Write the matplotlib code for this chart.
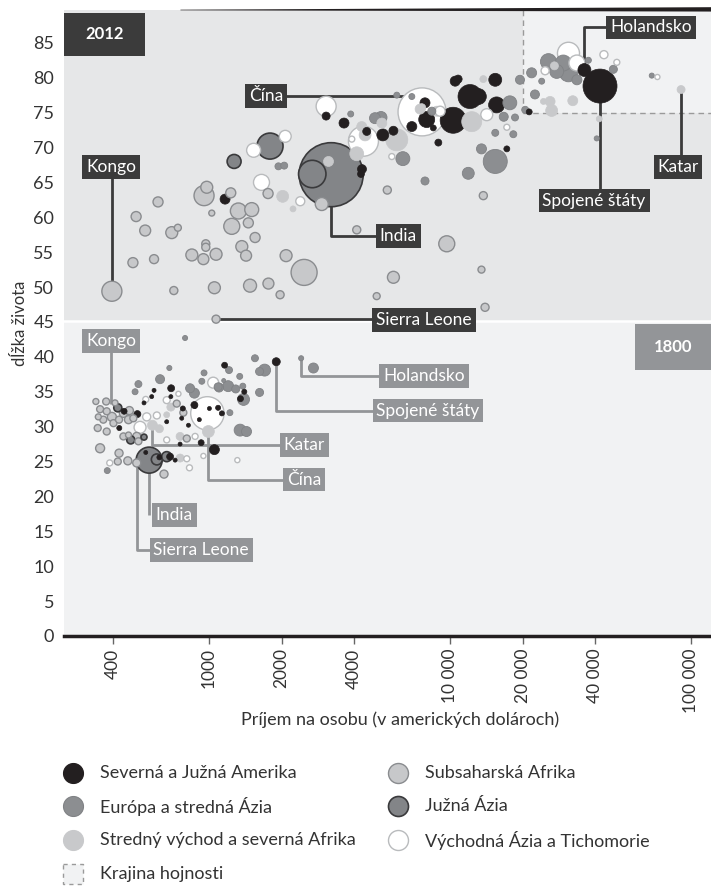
import numpy as np
import matplotlib
matplotlib.use('Agg')
import matplotlib.pyplot as plt
from matplotlib.patches import Rectangle, Polygon

plt.rcParams['font.family'] = ['Lato', 'DejaVu Sans']

# (príjem na osobu v USD, dĺžka života, populácia v mil.)
# ---- rok 2012 ----
amerika_2012 = [
    (41900, 78.8, 357), (36100, 81.1, 52), (1165, 62.6, 31), (3060, 74.5, 20),
    (3630, 73.5, 31), (4310, 66.9, 25), (4270, 66.2, 15), (5260, 71.8, 44),
    (5820, 72.4, 25), (4510, 72.3, 20), (6940, 73.0, 31), (8000, 74.0, 79),
    (7870, 76.4, 31), (8940, 70.7, 15), (8520, 72.8, 11), (10300, 73.9, 209),
    (12100, 77.3, 178), (13100, 77.3, 79), (15600, 76.1, 79), (15400, 79.7, 52),
    (10500, 79.5, 31), (10800, 79.8, 20), (17200, 69.8, 11), (21300, 75.1, 11),
]
europa_2012 = [
    (1940, 67.3, 15), (2050, 67.4, 15), (3870, 74.8, 11), (5170, 74.3, 44),
    (4880, 74.2, 37), (6370, 68.4, 60), (7870, 65.2, 20), (11900, 66.3, 44),
    (13500, 69.8, 31), (15400, 68.0, 178), (15400, 72.1, 15), (18300, 71.9, 15),
    (17700, 76.4, 60), (16700, 74.4, 25), (18600, 74.3, 15), (6940, 77.3, 11),
    (8400, 75.2, 20), (6010, 77.5, 11), (19500, 79.7, 25), (21800, 80.7, 31),
    (22500, 77.6, 25), (24000, 79.5, 11), (20500, 75.4, 15), (25600, 82.3, 79),
    (29500, 82.1, 79), (31000, 80.7, 100), (27700, 80.9, 60), (33600, 79.7, 31),
    (47600, 81.2, 20), (37500, 82.5, 11), (68700, 80.3, 8), (40600, 71.3, 8),
]
blizky_vychod_2012 = [
    (2020, 63.0, 44), (2230, 61.2, 11), (4100, 69.1, 60), (4440, 71.8, 44),
    (6010, 71.1, 150), (5210, 73.5, 31), (4300, 73.0, 31), (12300, 73.7, 124),
    (13740, 79.8, 15), (7510, 75.5, 31), (8810, 75.2, 31), (7630, 75.7, 20),
    (32300, 76.7, 31), (26000, 76.6, 31), (26400, 75.3, 44), (24400, 76.6, 11),
    (90900, 78.3, 20), (27100, 81.7, 20), (41600, 74.1, 11), (3130, 68.0, 31),
]
subsahara_2012 = [
    (395, 49.4, 124), (498, 60.1, 31), (543, 58.1, 37), (614, 62.2, 31),
    (700, 57.8, 44), (742, 58.5, 15), (483, 53.5, 31), (591, 54.0, 25),
    (714, 49.5, 20), (953, 63.1, 124), (978, 64.3, 44), (1230, 63.5, 31),
    (1026, 60.6, 11), (1323, 60.9, 79), (1503, 61.1, 60), (1242, 58.7, 79),
    (1455, 59.2, 31), (969, 56.2, 20), (969, 55.7, 20), (848, 54.6, 44),
    (947, 54.0, 37), (1069, 54.7, 44), (1367, 55.8, 44), (1424, 54.5, 37),
    (1052, 49.9, 44), (1479, 50.2, 52), (1552, 57.1, 31), (1069, 45.4, 20),
    (1757, 63.4, 31), (2087, 54.5, 44), (2479, 52.1, 209), (1763, 50.5, 37),
    (1971, 48.9, 20), (2935, 61.9, 52), (4100, 58.2, 20), (5490, 63.9, 20),
    (9690, 56.2, 79), (5820, 51.4, 44), (4960, 48.7, 15), (13500, 52.5, 15),
    (13970, 47.1, 20), (13740, 63.1, 20),
]
juzna_azia_2012 = [
    (3210, 66.1, 1265), (2680, 66.2, 232), (1790, 70.2, 209), (1270, 68.0, 60),
]
vychodna_azia_2012 = [
    (7650, 75.1, 711), (3060, 75.9, 124), (2070, 71.6, 44), (1530, 69.6, 60),
    (1650, 65.0, 79), (2390, 62.3, 25), (4370, 70.9, 278), (3910, 71.2, 11),
    (5730, 68.7, 11), (14200, 74.7, 44), (17200, 72.9, 11), (31000, 83.5, 150),
    (33600, 82.1, 79), (43500, 83.3, 20), (49200, 82.2, 11), (72500, 80.1, 8),
    (24800, 81.0, 20), (9090, 75.2, 31),
]

# ---- rok 1800 ----
amerika_1800 = [
    (1900, 39.3, 20), (444, 32.2, 11), (504, 31.8, 15), (424, 29.8, 8),
    (667, 30.7, 5), (696, 35.5, 15), (694, 34.3, 5), (591, 35.2, 5),
    (578, 34.3, 5), (537, 33.4, 5), (778, 32.6, 8), (770, 31.2, 5),
    (821, 30.2, 5), (758, 27.5, 5), (869, 33.1, 15), (911, 31.0, 5),
    (927, 27.7, 11), (1052, 26.7, 31), (1160, 38.8, 11), (1400, 35.0, 8),
    (1350, 34.0, 11), (1003, 32.6, 5), (1090, 32.7, 8), (875, 32.9, 5),
    (1130, 31.9, 8), (546, 26.3, 5), (622, 25.6, 8), (689, 25.7, 15),
    (723, 25.2, 5),
]
europa_1800 = [
    (2410, 39.8, 8), (2710, 38.4, 31), (795, 42.7, 8), (684, 38.4, 8),
    (626, 36.8, 25), (509, 36.1, 15), (493, 35.0, 11), (834, 35.5, 25),
    (869, 34.8, 31), (933, 36.5, 11), (953, 37.7, 11), (1100, 35.6, 25),
    (1200, 35.8, 37), (1210, 38.1, 15), (1340, 37.2, 11), (1290, 35.4, 20),
    (1390, 33.9, 44), (1550, 39.8, 15), (1700, 38.1, 44), (1620, 37.9, 20),
    (1620, 34.9, 20), (1220, 32.0, 11), (1345, 29.5, 44), (1430, 29.3, 31),
    (1090, 35.7, 20), (1380, 35.8, 11), (378, 23.7, 11), (1150, 36.6, 5),
]
blizky_vychod_1800 = [
    (582, 30.2, 31), (993, 29.3, 44), (622, 29.7, 20), (758, 28.6, 20),
    (758, 25.5, 20), (694, 32.8, 20), (667, 31.7, 11),
]
subsahara_1800 = [
    (339, 33.6, 11), (374, 33.6, 15), (407, 33.4, 11), (353, 32.5, 15),
    (376, 32.2, 15), (347, 31.4, 11), (364, 31.0, 15), (395, 31.4, 25),
    (401, 30.5, 15), (345, 29.8, 15), (376, 29.3, 15), (423, 31.0, 15),
    (441, 31.9, 20), (467, 32.3, 20), (463, 31.0, 20), (485, 31.2, 15),
    (441, 28.6, 15), (463, 28.8, 11), (501, 28.6, 20), (509, 27.9, 15),
    (353, 26.9, 25), (423, 26.2, 20), (460, 25.1, 20), (418, 25.0, 15),
    (501, 24.8, 20), (650, 23.2, 20), (808, 28.3, 15), (734, 33.3, 15),
    (782, 32.0, 15),
]
juzna_azia_1800 = [
    (564, 25.2, 209), (607, 25.3, 37), (667, 25.7, 31), (418, 32.7, 20),
    (473, 28.1, 20), (537, 28.5, 11),
]
vychodna_azia_1800 = [
    (984, 31.9, 344), (1040, 36.3, 37), (517, 29.9, 44), (551, 31.4, 20),
    (607, 31.6, 15), (667, 33.8, 15), (667, 28.1, 11), (387, 24.8, 11),
    (808, 25.4, 11), (829, 24.1, 11), (947, 25.8, 8), (1310, 25.2, 8),
    (546, 33.9, 11), (746, 34.7, 8), (875, 28.6, 11),
]

regiony = ['Severná a Južná Amerika', 'Európa a stredná Ázia',
           'Stredný východ a severná Afrika', 'Subsaharská Afrika',
           'Južná Ázia', 'Východná Ázia a Tichomorie']
data_2012 = [amerika_2012, europa_2012, blizky_vychod_2012, subsahara_2012,
             juzna_azia_2012, vychodna_azia_2012]
data_1800 = [amerika_1800, europa_1800, blizky_vychod_1800, subsahara_1800,
             juzna_azia_1800, vychodna_azia_1800]

x_ticks = [400, 1000, 2000, 4000, 10000, 20000, 40000, 100000]
x_tick_labels = ['400', '1000', '2000', '4000', '10 000', '20 000', '40 000', '100 000']
y_ticks = list(range(0, 90, 5))

# popisky krajín: text, pozícia štítku, lomená čiara od bubliny
popisky_2012 = [
    ('Kongo', (392, 67.2), [(395, 49.4), (395, 67.2)]),
    ('Čína', (1724, 77.4), [(7650, 75.1), (7650, 77.4), (1724, 77.4)]),
    ('India', (6090, 57.3), [(3210, 66.1), (3210, 57.3), (6090, 57.3)]),
    ('Sierra Leone', (7800, 45.3), [(1069, 45.4), (7800, 45.4)]),
    ('Holandsko', (68200, 87.2), [(36100, 81.1), (36100, 87.2), (68200, 87.2)]),
    ('Spojené štáty', (39600, 62.4), [(41900, 78.8), (41900, 62.4)]),
    ('Katar', (88300, 67.2), [(90900, 78.3), (90900, 67.2)]),
]
popisky_1800 = [
    ('Kongo', (392, 42.3), [(392, 33.2), (392, 42.3)]),
    ('Holandsko', (7800, 37.3), [(2410, 39.8), (2410, 37.3), (7800, 37.3)]),
    ('Spojené štáty', (8100, 32.3), [(1900, 39.3), (1900, 32.3), (8100, 32.3)]),
    ('Katar', (2480, 27.4), [(582, 30.2), (582, 27.4), (2480, 27.4)]),
    ('Čína', (2480, 22.4), [(993, 29.3), (993, 22.4), (2480, 22.4)]),
    ('India', (716, 17.3), [(564, 25.2), (564, 17.3)]),
    ('Sierra Leone', (927, 12.3), [(501, 24.8), (501, 12.3), (927, 12.3)]),
]

# štýly regiónov: výplň, okraj, hrúbka okraja
styly = [
    ('#231f20', '#231f20', 0.5),
    ('#8c8e91', '#808285', 0.6),
    ('#c8c9cb', '#c8c9cb', 0.5),
    ('#c7c8ca', '#8a8c8f', 1.0),
    ('#838588', '#3a3a3c', 1.2),
    ('#ffffff', '#b9bbbd', 1.0),
]

DPI = 100
TXT = '#333333'
fig = plt.figure(figsize=(7.11, 8.89), dpi=DPI)
ax = fig.add_axes([64 / 711, 1 - 636 / 889, 647 / 711, 626 / 889])

XMIN, XMAX, YMAX = 250, 121000, 89.7
ax.set_xscale('log')
ax.set_xlim(XMIN, XMAX)
ax.set_ylim(0, YMAX)

# pozadie
ax.set_facecolor('#f1f2f3')
ax.axhspan(45, YMAX, color='#e6e7e8', zorder=0, lw=0)
ax.axhline(45.1, color='white', lw=1.8, zorder=0.5)
ax.add_patch(Rectangle((20000, 75), XMAX - 20000, YMAX - 75, fc='#f1f2f3', ec='none', zorder=0.6))
ax.plot([20000, 20000], [75, YMAX], ls=(0, (4, 3)), color='#9a9a9a', lw=1, zorder=0.7)
ax.plot([20000, XMAX], [75, 75], ls=(0, (4, 3)), color='#9a9a9a', lw=1, zorder=0.7)


def bubliny(data):
    body = []
    for i, reg in enumerate(data):
        for inc, life, pop in reg:
            body.append((pop, inc, life, i))
    body.sort(key=lambda b: -b[0])
    pop = np.array([b[0] for b in body])
    x = np.array([b[1] for b in body])
    y = np.array([b[2] for b in body])
    reg = [b[3] for b in body]
    r_px = 0.9 * np.sqrt(pop)
    s = (2 * r_px * 72 / DPI) ** 2
    ax.scatter(x, y, s=s, c=[styly[r][0] for r in reg],
               edgecolors=[styly[r][1] for r in reg],
               linewidths=[styly[r][2] for r in reg], zorder=3)


def popisky(zoznam, farba):
    for text, pos, cesta in zoznam:
        ax.plot([p[0] for p in cesta], [p[1] for p in cesta], color=farba, lw=2,
                zorder=2, solid_capstyle='butt')
        ax.text(pos[0], pos[1], text, ha='center', va='center', color='white',
                fontsize=12.5, zorder=6,
                bbox=dict(boxstyle='square,pad=0.22', fc=farba, ec='none'))


popisky(popisky_2012, '#3b3b3b')
popisky(popisky_1800, '#939598')
bubliny(data_1800)
bubliny(data_2012)

# roky
ax.add_patch(Rectangle((0, 0.9265), 0.125, 0.0685, transform=ax.transAxes,
                       fc='#3b3b3b', ec='none', zorder=7, clip_on=False))
ax.text(0.0625, 0.962, '2012', transform=ax.transAxes, ha='center', va='center',
        color='white', fontsize=12, fontweight='bold', zorder=8)
ax.add_patch(Rectangle((0.8825, 0.425), 0.1175, 0.073, transform=ax.transAxes,
                       fc='#939598', ec='none', zorder=7, clip_on=False))
ax.text(0.941, 0.4617, '1800', transform=ax.transAxes, ha='center', va='center',
        color='white', fontsize=12, fontweight='bold', zorder=8)

# horná linka
ax.add_patch(Polygon([(0.18, 0.9995), (1.0, 0.9975), (1.0, 1.0045), (0.18, 1.0005)],
                     closed=True, transform=ax.transAxes, fc='#231f20', ec='none',
                     clip_on=False, zorder=8))

# osi
for s in ['top', 'right', 'left']:
    ax.spines[s].set_visible(False)
ax.spines['bottom'].set_color('#231f20')
ax.spines['bottom'].set_linewidth(2.5)
ax.spines['bottom'].set_zorder(9)
ax.set_xticks(x_ticks)
ax.set_xticklabels(x_tick_labels, rotation=90, fontsize=12.5, color=TXT)
ax.xaxis.set_minor_locator(matplotlib.ticker.NullLocator())
ax.tick_params(axis='x', direction='out', length=6, width=1, color='#666666', pad=3)
ax.set_yticks(y_ticks)
ax.set_yticklabels([str(v) for v in y_ticks], fontsize=13, color=TXT)
ax.tick_params(axis='y', length=0, pad=7)
ax.set_ylabel('dĺžka života', fontsize=12, color=TXT, labelpad=4)
fig.text(400 / 711, 1 - 720 / 889, 'Príjem na osobu (v amerických dolároch)',
         ha='center', va='center', fontsize=13, color=TXT)

# legenda
lg = fig.add_axes([0, 0, 1, 140 / 889])
lg.set_xlim(0, 711)
lg.set_ylim(889, 749)
lg.axis('off')
leg_pozicie = [(73, 773), (73, 806), (73, 840), (398, 773), (398, 806), (398, 840)]
for (lx, ly), nazov, (fc, ec, lw) in zip(leg_pozicie, regiony, styly):
    lg.scatter([lx], [ly], s=(20 * 72 / DPI) ** 2, c=fc, edgecolors=ec, linewidths=max(lw, 0.8))
    lg.text(lx + 27, ly, nazov, va='center', ha='left', fontsize=13, color=TXT)
lg.add_patch(Rectangle((63, 864), 20, 20, fc='#f1f2f3', ec='#9a9a9a', ls=(0, (3, 3)), lw=1))
lg.text(100, 874, 'Krajina hojnosti', va='center', ha='left', fontsize=13, color=TXT)

fig.savefig('out.png', dpi=DPI)
